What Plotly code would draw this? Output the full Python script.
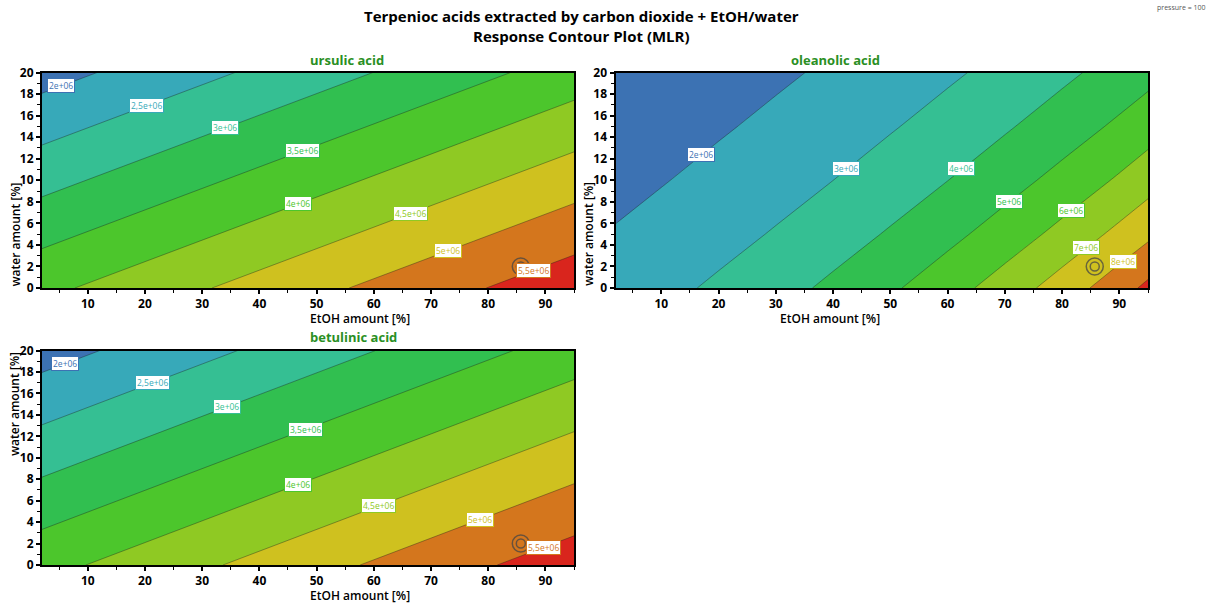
import numpy as np
import plotly.graph_objects as go

# ---------------- data ----------------
# ursulic acid: response at the corners of the design space (linear surface)
urs_x = [2, 95]
urs_y = [0, 20]
urs_z = [[3.88e6, 5.82e6],
         [1.80e6, 3.73e6]]
urs_levels = [2.0e6, 2.5e6, 3.0e6, 3.5e6, 4.0e6, 4.5e6, 5.0e6, 5.5e6]
urs_label_x = [5.4, 20.3, 34.0, 47.6, 46.8, 66.4, 73.0, 88.0]

# betulinic acid
bet_x = [2, 95]
bet_y = [0, 20]
bet_z = [[3.84e6, 5.78e6],
         [1.79e6, 3.72e6]]
bet_levels = [2.0e6, 2.5e6, 3.0e6, 3.5e6, 4.0e6, 4.5e6, 5.0e6, 5.5e6]
bet_label_x = [6.1, 21.4, 34.3, 48.0, 46.8, 60.8, 78.5, 89.7]

# oleanolic acid (curved response, read on a grid), values in units of 1e6
ole_x = [2, 10, 20, 30, 40, 50, 60, 70, 80, 90, 95]
ole_y = [0, 5, 10, 15, 20]
ole_z_m = [
    [2.440, 2.736, 3.157, 3.642, 4.202, 4.848, 5.593, 6.453, 7.445, 8.589, 9.226],
    [2.061, 2.311, 2.667, 3.076, 3.549, 4.095, 4.724, 5.451, 6.289, 7.255, 7.793],
    [1.741, 1.952, 2.253, 2.599, 2.998, 3.459, 3.991, 4.604, 5.312, 6.128, 6.583],
    [1.471, 1.649, 1.903, 2.195, 2.533, 2.922, 3.371, 3.889, 4.487, 5.177, 5.560],
    [1.242, 1.393, 1.607, 1.854, 2.139, 2.468, 2.847, 3.285, 3.790, 4.373, 4.697],
]
ole_levels = [2e6, 3e6, 4e6, 5e6, 6e6, 7e6, 8e6, 9e6]
ole_label_x = [16.9, 42.3, 62.4, 70.8, 81.5, 84.1, 90.6]

# optimum point marker
opt_x = [85.7]
opt_y = [2.0]

band_colors = ["#3c72b3", "#37a9b9", "#35bf93", "#31bf50", "#4cc62c",
               "#8fc923", "#cfc11f", "#d4761d", "#d9251d"]

# ---------------- helpers ----------------
def fmt(v):
    s = f"{v / 1e6:g}".replace(".", ",")
    return s + "e+06"


def label_y(xg, yg, zg, xv, level):
    zg = np.asarray(zg, dtype=float)
    col = np.array([np.interp(xv, xg, row) for row in zg])
    return float(np.interp(level, col[::-1], np.asarray(yg, dtype=float)[::-1]))


colorscale = [[i / 8, c] for i, c in enumerate(band_colors)]

fig = go.Figure()

panels = [
    ("x", "y", urs_x, urs_y, np.asarray(urs_z), urs_levels, urs_label_x),
    ("x2", "y2", ole_x, ole_y, np.asarray(ole_z_m) * 1e6, ole_levels, ole_label_x),
    ("x3", "y3", bet_x, bet_y, np.asarray(bet_z), bet_levels, bet_label_x),
]

annotations = []
for xa, ya, xg, yg, zg, levels, lab_x in panels:
    step = levels[1] - levels[0]
    fig.add_trace(go.Contour(
        x=xg, y=yg, z=zg, xaxis=xa, yaxis=ya,
        autocontour=False,
        contours=dict(start=levels[0], end=levels[-1], size=step,
                      coloring="fill", showlabels=False),
        colorscale=colorscale, showscale=False,
        line=dict(color="rgba(30,30,30,0.55)", width=0.7, smoothing=0),
        hoverinfo="skip",
    ))
    for i, lx in enumerate(lab_x):
        lv = levels[i]
        ly = label_y(xg, yg, zg, lx, lv)
        annotations.append(dict(
            x=lx, y=ly, xref=xa, yref=ya, text=fmt(lv), showarrow=False,
            font=dict(size=8.5, color=band_colors[i], family="Open Sans"),
            bgcolor="white", bordercolor=band_colors[i], borderwidth=1,
            borderpad=1,
        ))
    # optimum marker (double ring)
    for sz in (17, 9):
        fig.add_trace(go.Scatter(
            x=opt_x, y=opt_y, xaxis=xa, yaxis=ya, mode="markers",
            marker=dict(symbol="circle-open", size=sz,
                        line=dict(color="rgba(70,70,70,0.75)", width=1.5),
                        color="rgba(70,70,70,0.75)"),
            showlegend=False, hoverinfo="skip"))

W, H = 1215, 605
# plot areas in pixels
areas = {
    "1": (42, 574, 72.5, 288),
    "2": (615.5, 1148, 72.5, 288),
    "3": (42, 574, 350.5, 565),
}

tickfont = dict(size=12, family="Open Sans", color="black", weight="bold")

def xaxis_cfg(a, anchor):
    x0, x1, t, b = areas[a]
    return dict(domain=[x0 / W, x1 / W], anchor=anchor, range=[2, 95],
                automargin=False,
                tickmode="array", tickvals=list(range(10, 100, 10)),
                ticks="outside", ticklen=4, tickwidth=1.5, tickcolor="black",
                minor=dict(tickvals=list(range(5, 96, 10)), ticks="outside",
                           ticklen=3, tickwidth=1, tickcolor="black"),
                showline=True, linecolor="black", linewidth=2, mirror=True,
                showgrid=False, zeroline=False, tickfont=tickfont)

def yaxis_cfg(a, anchor):
    x0, x1, t, b = areas[a]
    return dict(domain=[(H - b) / H, (H - t) / H], anchor=anchor, range=[0, 20],
                automargin=False,
                tickmode="array", tickvals=list(range(0, 21, 2)),
                ticks="outside", ticklen=4, tickwidth=1.5, tickcolor="black",
                minor=dict(tickvals=list(range(1, 20, 2)), ticks="outside",
                           ticklen=3, tickwidth=1, tickcolor="black"),
                showline=True, linecolor="black", linewidth=2, mirror=True,
                showgrid=False, zeroline=False, tickfont=tickfont)

titles = ["ursulic acid", "oleanolic acid", "betulinic acid"]
for a, name in zip(["1", "2", "3"], titles):
    x0, x1, t, b = areas[a]
    annotations.append(dict(
        x=(x0 + x1) / 2 / W, y=(H - t + 2) / H, xref="paper", yref="paper",
        text="<b>" + name + "</b>", showarrow=False, yanchor="bottom",
        font=dict(size=13, color="#2a8f24", family="Open Sans")))
    annotations.append(dict(
        x=(x0 + x1) / 2 / W, y=(H - b - 20) / H, xref="paper", yref="paper",
        text="EtOH amount [%]", showarrow=False, yanchor="top",
        font=dict(size=12, color="black", family="Open Sans", weight=600)))
    annotations.append(dict(
        x=(x0 - 27) / W, y=(H - (t + b) / 2) / H, xref="paper", yref="paper",
        text="water amount [%]", showarrow=False, textangle=-90,
        xanchor="center",
        font=dict(size=12, color="black", family="Open Sans", weight=600)))

annotations.append(dict(
    x=581 / W, y=1 - 4 / H, xref="paper", yref="paper",
    text="Terpenioc acids extracted by carbon dioxide + EtOH/water<br>Response Contour Plot (MLR)",
    showarrow=False, yanchor="top",
    font=dict(size=15, color="black", family="Open Sans", weight="bold")))
annotations.append(dict(
    x=1207 / W, y=1 - 1 / H, xref="paper", yref="paper",
    text="pressure = 100", showarrow=False, xanchor="right", yanchor="top",
    font=dict(size=7, color="#555", family="Open Sans")))

fig.update_layout(
    width=W, height=H, margin=dict(l=0, r=0, t=0, b=0, autoexpand=False),
    paper_bgcolor="white", plot_bgcolor="white", showlegend=False,
    xaxis=xaxis_cfg("1", "y"), yaxis=yaxis_cfg("1", "x"),
    xaxis2=xaxis_cfg("2", "y2"), yaxis2=yaxis_cfg("2", "x2"),
    xaxis3=xaxis_cfg("3", "y3"), yaxis3=yaxis_cfg("3", "x3"),
    annotations=annotations,
)

fig.write_html("out.html")
